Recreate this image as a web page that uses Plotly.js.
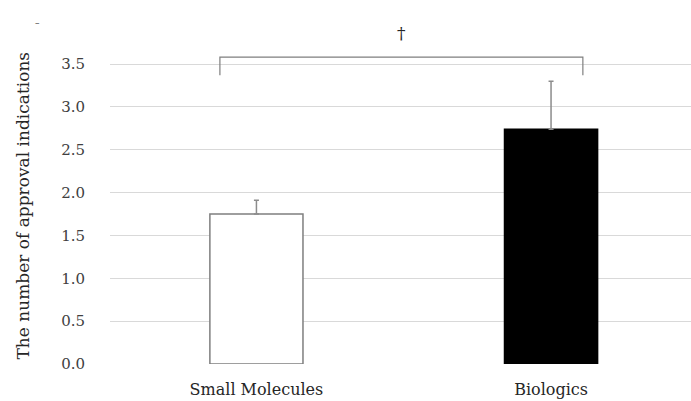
<!DOCTYPE html>
<html><head><meta charset="utf-8">
<script src="https://cdn.plot.ly/plotly-3.0.1.min.js"></script>
<style>html,body{margin:0;padding:0;background:#fff}#c{width:691px;height:401px}</style>
</head><body><div id="c"></div>
<script>
const categories = ["Small Molecules", "Biologics"];
const means = [1.75, 2.74];
const errPlus = [0.16, 0.56];
const barColors = ["#ffffff", "#000000"];
const barLines = ["#7f7f7f", "#000000"];
const tickVals = [0, 0.5, 1, 1.5, 2, 2.5, 3, 3.5];
const tickText = ["0.0", "0.5", "1.0", "1.5", "2.0", "2.5", "3.0", "3.5"];
const yTitle = "The number of approval indications";
const sigLabel = "†";
const bracketY = 3.58, bracketDrop = 3.37, sigY = 3.86;

const font = "'DejaVu Serif', 'Liberation Serif', serif";
const W = 691, H = 401, ML = 110, MR = 0, MT = 4, MB = 37;
const PW = W - ML - MR, PH = H - MT - MB;
const px = (x) => (x - ML) / PW;          // page pixel -> paper x
const py = (y) => (H - MB - y) / PH;      // page pixel -> paper y

const trace = {
  type: "bar", x: categories, y: means, width: 0.316,
  marker: {color: barColors, line: {color: barLines, width: 1.5}},
  error_y: {type: "data", symmetric: false, array: errPlus, arrayminus: [0, 0],
            color: "#8c8c8c", thickness: 1.5, width: 2.5},
  hoverinfo: "none"
};
const x0 = 0 - 0.124, x1 = 1 + 0.108;
const layout = {
  width: W, height: H,
  margin: {l: ML, r: MR, t: MT, b: MB},
  paper_bgcolor: "#fff", plot_bgcolor: "#fff",
  showlegend: false,
  font: {family: font, color: "#404040", size: 15},
  xaxis: {type: "category", range: [-0.497, 1.475], showgrid: false, zeroline: false,
          showline: false, ticks: "", tickfont: {size: 16, color: "#262626"}, ticklabelstandoff: 14},
  yaxis: {range: [0, 4.2], tickvals: tickVals, ticktext: tickText, showgrid: true,
          gridcolor: "#d9d9d9", gridwidth: 1, zeroline: false, showline: false, ticks: "",
          ticklabelstandoff: 24, tickfont: {size: 15, color: "#404040"}},
  shapes: [
    {type: "path", xref: "x", yref: "y",
     path: `M ${x0} ${bracketDrop} L ${x0} ${bracketY} L ${x1} ${bracketY} L ${x1} ${bracketDrop}`,
     line: {color: "#7f7f7f", width: 1.2}}
  ],
  annotations: [
    {x: px(22), y: py(205.5), xref: "paper", yref: "paper", text: yTitle, textangle: -90,
     showarrow: false, xanchor: "center", yanchor: "middle",
     font: {size: 17, color: "#262626"}},
    {x: (x0 + x1) / 2, y: sigY, xref: "x", yref: "y", text: sigLabel, showarrow: false,
     font: {size: 17, color: "#262626"}},
    {x: px(33), y: py(16), xref: "paper", yref: "paper", text: "–", showarrow: false,
     font: {size: 9, color: "#404040"}}
  ]
};
Plotly.newPlot("c", [trace], layout, {staticPlot: true});
</script></body></html>
